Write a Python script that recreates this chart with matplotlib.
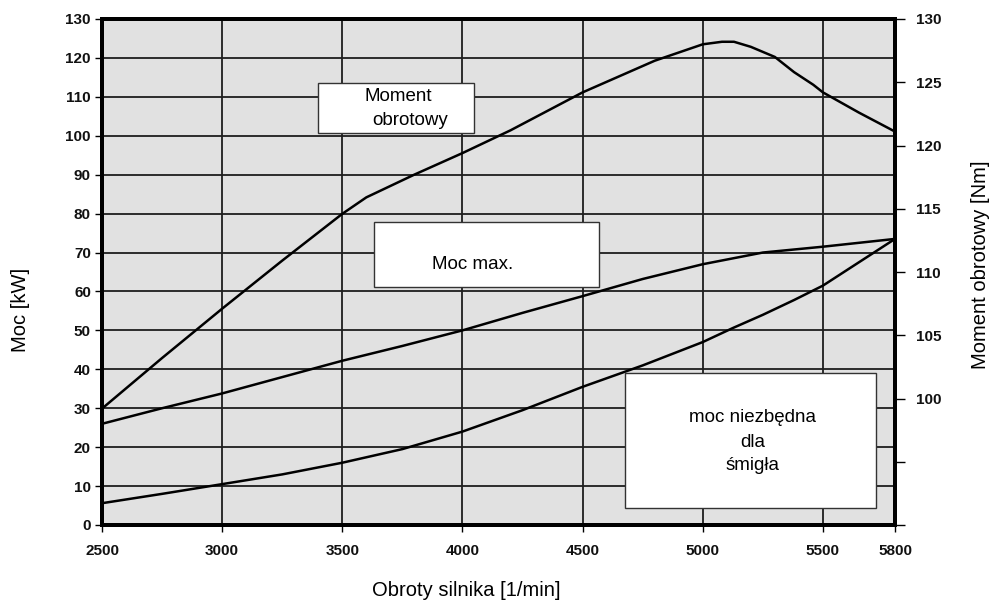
import matplotlib
matplotlib.use("Agg")
import matplotlib.pyplot as plt
from matplotlib.patches import Rectangle
from matplotlib.ticker import FixedLocator, FuncFormatter

# Engine speed [1/min]
rpm_power = [2500, 2750, 3000, 3250, 3500, 3750, 4000, 4250, 4500, 4750, 5000, 5250, 5500, 5800]
# Maximum power [kW]
max_power = [26.0, 30.0, 33.8, 38.0, 42.2, 46.0, 50.0, 54.5, 58.8, 63.2, 67.0, 70.0, 71.5, 73.5]

rpm_prop = [2500, 2750, 3000, 3250, 3500, 3750, 4000, 4250, 4500, 4750, 5000, 5125, 5250, 5380, 5500, 5650, 5800]
# Power required by the propeller [kW]
prop_power = [5.6, 8.0, 10.5, 13.0, 16.0, 19.5, 24.0, 29.5, 35.5, 41.0, 47.0, 50.6, 54.0, 57.8, 61.5, 67.5, 73.5]

rpm_torque = [2500, 2750, 3000, 3250, 3500, 3600, 3800, 4000, 4200, 4500, 4800, 5000, 5080,
              5130, 5200, 5300, 5380, 5460, 5500, 5650, 5800]
# Engine torque [Nm]
torque = [99.2, 103.2, 107.1, 110.9, 114.6, 115.9, 117.7, 119.4, 121.2, 124.2, 126.7, 128.0, 128.2,
          128.2, 127.8, 127.0, 125.8, 124.8, 124.2, 122.6, 121.1]

x_ticks = [2500, 3000, 3500, 4000, 4500, 5000, 5500, 5800]
left_ticks = list(range(0, 131, 10))
right_ticks = [90, 95, 100, 105, 110, 115, 120, 125, 130]
right_labelled = [100, 105, 110, 115, 120, 125, 130]

tick_font = dict(family=["Liberation Sans", "DejaVu Sans"], weight="bold", size=11)
label_font = dict(family=["Liberation Sans", "DejaVu Sans"], size=14.5)
box_font = dict(family=["Liberation Sans", "DejaVu Sans"], size=13.5)

W, H = 992, 601
fig = plt.figure(figsize=(W / 100, H / 100), dpi=100)
ax = fig.add_axes([102 / W, 76 / H, 793 / W, 506 / H])
ax.set_facecolor("#e1e1e1")
ax.set_xlim(2500, 5800)
ax.set_ylim(0, 130)
ax.set_xticks(x_ticks)
ax.set_yticks(left_ticks)
ax.grid(True, color="#1e1e1e", linewidth=1.3, zorder=1)
ax.set_axisbelow(True)
for side in ["left", "right", "top", "bottom"]:
    ax.spines[side].set_linewidth(2.8)
    ax.spines[side].set_color("black")
ax.tick_params(axis="both", length=5, width=1, color="black", pad=3)
ax.tick_params(axis="x", pad=9)
for lbl in ax.get_xticklabels() + ax.get_yticklabels():
    lbl.set(**tick_font)
    lbl.set_color("#111111")

ax.plot(rpm_power, max_power, color="black", linewidth=1.8, zorder=3)
ax.plot(rpm_prop, prop_power, color="black", linewidth=1.8, zorder=3)

# Annotation boxes
boxes = [
    ((3400, 100.7), 650, 12.9),
    ((3633, 61.2), 934, 16.7),
    ((4675, 4.4), 1046, 34.7),
]
for (x0, y0), w, h in boxes:
    ax.add_patch(Rectangle((x0, y0), w, h, facecolor="white", edgecolor="#333333",
                           linewidth=1.0, zorder=4))

ax.text(3733, 110.2, "Moment", ha="center", va="center", zorder=5, **box_font)
ax.text(3783, 103.8, "obrotowy", ha="center", va="center", zorder=5, **box_font)
ax.text(4042, 66.8, "Moc max.", ha="center", va="center", zorder=5, **box_font)
ax.text(5208, 27.5, "moc niezbędna", ha="center", va="center", zorder=5, **box_font)
ax.text(5208, 21.3, "dla", ha="center", va="center", zorder=5, **box_font)
ax.text(5208, 15.2, "śmigła", ha="center", va="center", zorder=5, **box_font)

# Torque on the secondary axis
ax2 = ax.twinx()
ax2.set_ylim(90, 130)
ax2.yaxis.set_major_locator(FixedLocator(right_ticks))
ax2.yaxis.set_major_formatter(FuncFormatter(
    lambda v, p: f"{int(round(v))}" if int(round(v)) in right_labelled else ""))
ax2.tick_params(axis="y", length=7, width=1, pad=8)
for lbl in ax2.get_yticklabels():
    lbl.set(**tick_font)
    lbl.set_color("#111111")
for side in ["left", "right", "top", "bottom"]:
    ax2.spines[side].set_linewidth(2.8)
ax2.plot(rpm_torque, torque, color="black", linewidth=1.8, zorder=3)

# Axis titles
fig.text(466 / W, 1 - 590 / H, "Obroty silnika [1/min]", ha="center", va="center", **label_font)
fig.text(21 / W, 1 - 310 / H, "Moc [kW]", ha="center", va="center", rotation=90, **label_font)
fig.text(980 / W, 1 - 265 / H, "Moment obrotowy [Nm]", ha="center", va="center", rotation=90,
         **label_font)

fig.savefig("out.png", dpi=100)
